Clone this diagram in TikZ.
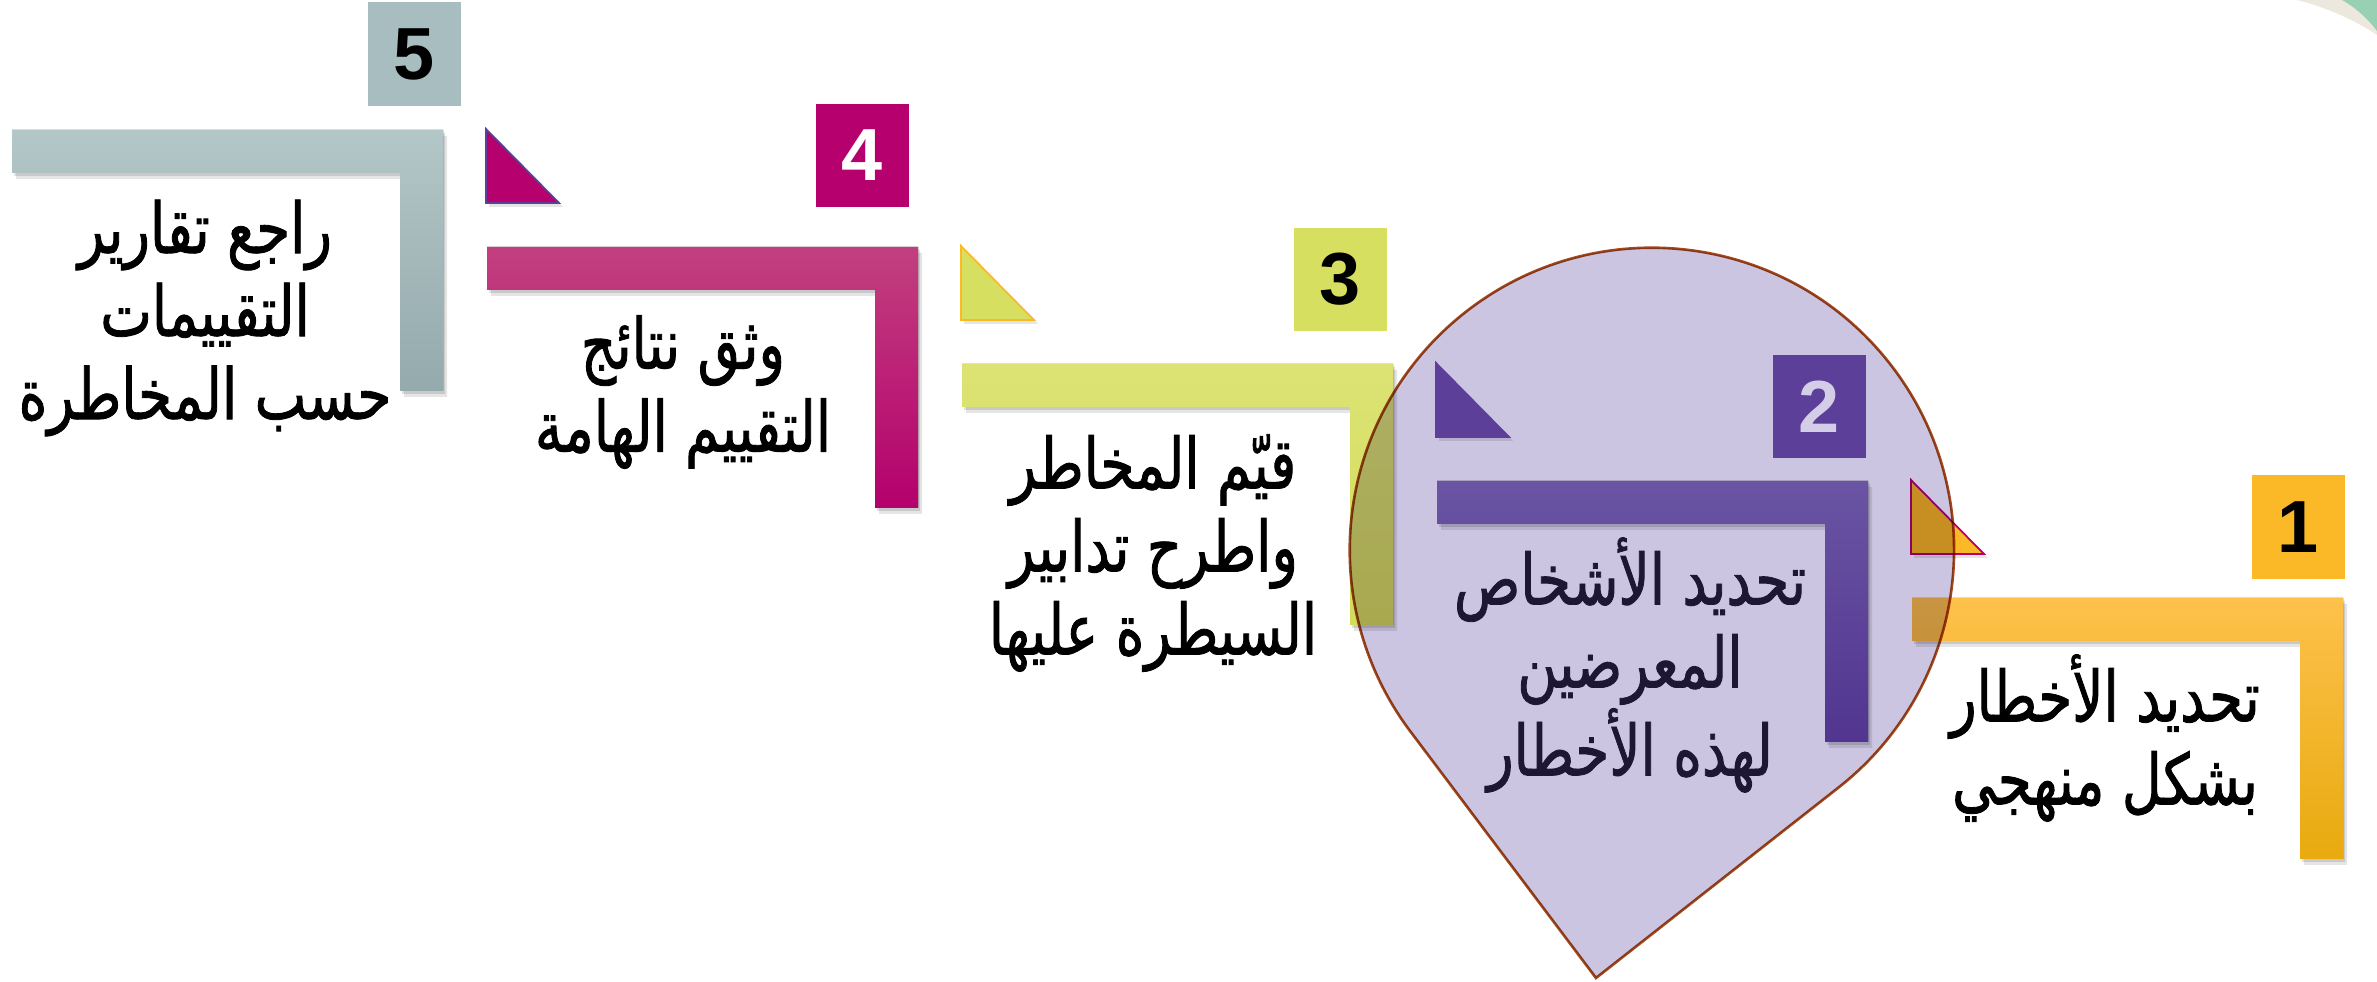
\documentclass[tikz,border=0pt]{standalone}
\usepackage{fontspec}
\newfontfamily\arabicfont[Script=Arabic, FakeStretch=0.78, FakeBold=1.2]{DejaVu Sans}
\newfontfamily\numfont{Liberation Sans}
\TeXXeTstate=1
\definecolor{cA}{HTML}{FBB927}
\definecolor{cAt}{HTML}{FEC14C}
\definecolor{cAb}{HTML}{E8AA0E}
\definecolor{cB}{HTML}{5B3F99}
\definecolor{cBt}{HTML}{6A54A3}
\definecolor{cBb}{HTML}{513590}
\definecolor{cC}{HTML}{D6DF5F}
\definecolor{cCt}{HTML}{DCE374}
\definecolor{cCb}{HTML}{D4DC5A}
\definecolor{cD}{HTML}{B5006E}
\definecolor{cDt}{HTML}{C2407F}
\definecolor{cDb}{HTML}{B4006C}
\definecolor{cE}{HTML}{A7BDBF}
\definecolor{cEt}{HTML}{B3C6C8}
\definecolor{cEb}{HTML}{94AAAC}
\definecolor{balfill}{HTML}{CBC5E1}
\definecolor{balline}{HTML}{A5481C}
\definecolor{beige}{HTML}{EDE8DD}
\definecolor{mint}{HTML}{98D0B4}
\definecolor{twotext}{HTML}{1E1734}
\definecolor{twonum}{HTML}{D4CDE8}
\tikzset{
  numbox/.style={minimum width=0.92cm, minimum height=1.03cm, inner sep=0pt,
    font=\numfont\bfseries\fontsize{21}{21}\selectfont},
  steptext/.style={inner sep=0pt, align=center,
    font=\arabicfont\fontsize{20}{23.6}\selectfont},
  shadowA/.style={fill=black, fill opacity=0.10},
  shadowB/.style={fill=black, fill opacity=0.12},
}
\newcommand\drawL[3]{%
  \begin{scope}[shift={#1}]
    \fill[shadowA] (1916,378) -- (2347,378) -- (2347,117) -- (2304,117) -- (2304,335) -- (1916,335) -- cycle;
    \fill[shadowB] (1914,381) -- (2345,381) -- (2345,120) -- (2302,120) -- (2302,338) -- (1914,338) -- cycle;
    \fill[top color=#2, bottom color=#3] (1912,384) -- (2343,384) -- (2343,123) -- (2300,123) -- (2300,341) -- (1912,341) -- cycle;
  \end{scope}}
\newcommand\drawT[3]{%
  \begin{scope}[shift={#1}]
    \fill[shadowA] (1914,498) -- (1914,424) -- (1988,424) -- cycle;
    \filldraw[fill=#2, draw=#3, line width=0.5pt, line join=miter] (1911,502) -- (1911,428) -- (1984,428) -- cycle;
  \end{scope}}
\begin{document}
\begin{tikzpicture}[x=0.01cm, y=0.01cm]
\useasboundingbox (0,0) rectangle (2377,982);
% corner decoration
\fill[beige] (2297,982) .. controls (2325,975) and (2355,962) .. (2377,947) -- (2377,982) -- cycle;
\fill[mint] (2342,982) .. controls (2355,975) and (2368,963) .. (2377,951) -- (2377,982) -- cycle;
% step 5
\drawL{(-1900,468)}{cEt}{cEb}
\node[numbox, fill=cE, text=black] (n5) at (414.5,928) {5};
\node[steptext] (t5) at (205,664) {\beginR راجع تقارير\endR\\ \beginR التقييمات\endR\\ \beginR حسب المخاطرة\endR};
% step 4
\drawT{(-1425,351)}{cD}{cB}
\drawL{(-1425,351)}{cDt}{cDb}
\node[numbox, fill=cD, text=white] (n4) at (862.5,826.5) {4};
\node[steptext] (t4) at (683,590) {\beginR وثق نتائج\endR\\ \beginR التقييم الهامة\endR};
% step 3
\drawT{(-950,234)}{cC}{cA}
\drawL{(-950,234)}{cCt}{cCb}
\node[numbox, fill=cC, text=black] (n3) at (1340.5,702.5) {3};
\node[steptext] (t3) at (1153,429) {\beginR قيّم المخاطر\endR\\ \beginR واطرح تدابير\endR\\ \beginR السيطرة عليها\endR};
% step 1
\drawT{(0,0)}{cA}{cD}
\drawL{(0,0)}{cAt}{cAb}
\node[numbox, fill=cA, text=black] (n1) at (2298.5,455) {1};
\node[steptext] (t1) at (2105,244) {\beginR تحديد الأخطار\endR\\ \beginR بشكل منهجي\endR};
% balloon
\begin{scope}[blend mode=multiply]
\filldraw[fill=balfill, draw=balline, line width=0.75pt, line join=miter]
  (1596,4) -- (1838.6,194.5) arc[start angle=-51.84, end angle=216.94, radius=3.02cm] -- cycle;
\end{scope}
% step 2
\drawT{(-475,117)}{cB}{cB}
\drawL{(-475,117)}{cBt}{cBb}
\node[numbox, fill=cB, text=twonum] (n2) at (1819.5,575.5) {2};
\node[steptext, text=twotext] (t2) at (1630,317) {\beginR تحديد الأشخاص\endR\\ \beginR المعرضين\endR\\ \beginR لهذه الأخطار\endR};
\end{tikzpicture}
\end{document}
